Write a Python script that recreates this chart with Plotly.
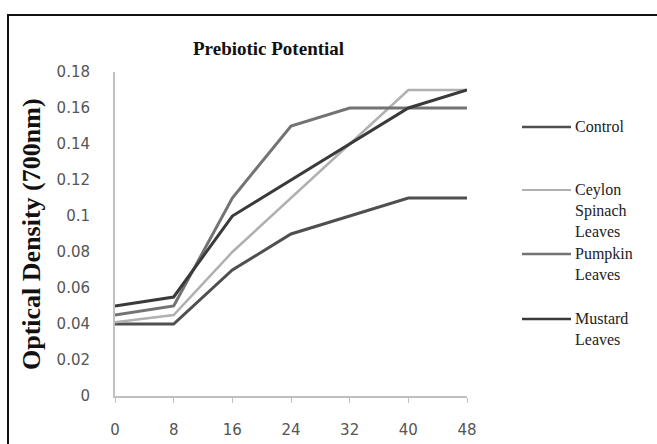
import plotly.graph_objects as go

hours = [0, 8, 16, 24, 32, 40, 48]
names = ["Control", "Ceylon<br>Spinach<br>Leaves", "Pumpkin<br>Leaves", "Mustard<br>Leaves"]
control = [0.04, 0.04, 0.07, 0.09, 0.10, 0.11, 0.11]
ceylon = [0.041, 0.045, 0.08, 0.11, 0.14, 0.17, 0.17]
pumpkin = [0.045, 0.05, 0.11, 0.15, 0.16, 0.16, 0.16]
mustard = [0.05, 0.055, 0.10, 0.12, 0.14, 0.16, 0.17]
y_ticks = [0, 0.02, 0.04, 0.06, 0.08, 0.1, 0.12, 0.14, 0.16, 0.18]
y_tick_text = ["0", "0.02", "0.04", "0.06", "0.08", "0.1", "0.12", "0.14", "0.16", "0.18"]

series = [control, ceylon, pumpkin, mustard]
colors = ["#4f4f4f", "#b0b0b0", "#737373", "#3a3a3a"]
widths = [3, 2.5, 3, 3]

fig = go.Figure()
for nm, vals, c, w in zip(names, series, colors, widths):
    fig.add_trace(go.Scatter(x=hours, y=vals, mode="lines", name=nm,
                             line=dict(color=c, width=w), showlegend=False))

# manual legend (positions in pixels converted to paper coords)
L, R, T, B = 115, 190, 72, 48
W, H = 657, 444
pw, ph = W - L - R, H - T - B
def px(x):
    return (x - L) / pw
def py(y):
    return (H - B - y) / ph

legend_y = [127, 190, 254, 319]
shapes = []
annotations = []
for nm, c, w, ly in zip(names, colors, widths, legend_y):
    shapes.append(dict(type="line", xref="paper", yref="paper",
                       x0=px(522), x1=px(571), y0=py(ly), y1=py(ly),
                       line=dict(color=c, width=w - 0.5)))
    annotations.append(dict(xref="paper", yref="paper", x=px(573), y=py(ly - 11),
                            xanchor="left", yanchor="top", align="left",
                            text=nm, showarrow=False,
                            font=dict(family="Liberation Serif", size=16, color="#222222")))

# outer border
shapes.append(dict(type="rect", xref="paper", yref="paper",
                   x0=px(8), x1=px(700), y0=py(15), y1=py(470),
                   line=dict(color="#111111", width=2), fillcolor="rgba(0,0,0,0)"))

annotations.append(dict(xref="paper", yref="paper", x=px(268), y=py(49),
                        xanchor="center", yanchor="middle", showarrow=False,
                        text="<b>Prebiotic Potential</b>",
                        font=dict(family="Liberation Serif", size=19, color="#111111")))
annotations.append(dict(xref="paper", yref="paper", x=px(31), y=py(234),
                        xanchor="center", yanchor="middle", showarrow=False, textangle=-90,
                        text="<b>Optical Density (700nm)</b>",
                        font=dict(family="Liberation Serif", size=26, color="#111111")))

fig.update_layout(
    width=W, height=H,
    margin=dict(l=L, r=R, t=T, b=B),
    paper_bgcolor="white", plot_bgcolor="white",
    showlegend=False,
    shapes=shapes, annotations=annotations,
    xaxis=dict(range=[0, 48], tickvals=hours, ticktext=[str(h) for h in hours],
               automargin=False,
               showgrid=False, zeroline=False, showline=True, linecolor="#c0c0c0", linewidth=2,
               ticks="outside", ticklen=5, tickcolor="#c0c0c0", tickwidth=1,
               ticklabelstandoff=14,
               tickfont=dict(family="DejaVu Sans", size=15, color="#555555")),
    yaxis=dict(range=[0, 0.18], tickvals=y_ticks, ticktext=y_tick_text,
               automargin=False,
               showgrid=False, zeroline=False, showline=True, linecolor="#c0c0c0", linewidth=2,
               ticks="", ticklabelstandoff=20,
               tickfont=dict(family="DejaVu Sans", size=15, color="#555555")),
)
fig.write_html("out.html")
